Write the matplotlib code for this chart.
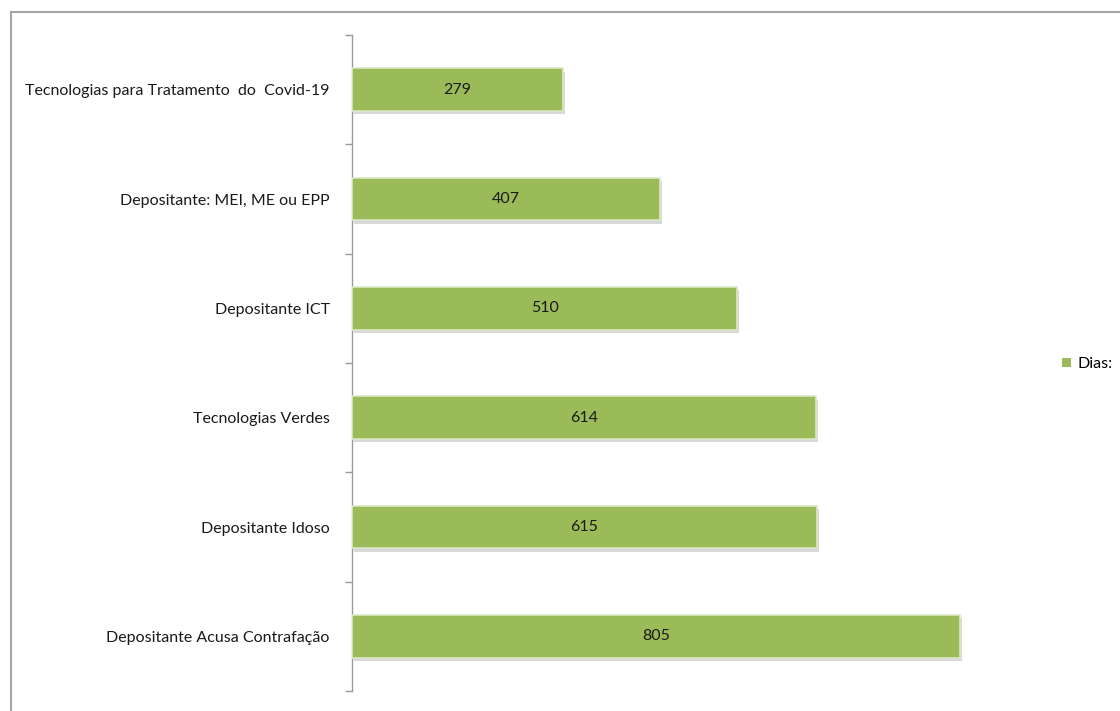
import matplotlib
matplotlib.use("Agg")
import matplotlib.pyplot as plt
import matplotlib.patheffects as pe
from matplotlib.lines import Line2D
from matplotlib.patches import Patch

categories = [
    "Tecnologias para Tratamento  do  Covid-19",
    "Depositante: MEI, ME ou EPP",
    "Depositante ICT",
    "Tecnologias Verdes",
    "Depositante Idoso",
    "Depositante Acusa Contrafação",
]
values = [279, 407, 510, 614, 615, 805]
series_name = "Dias:"

plt.rcParams['font.family'] = ['Lato', 'DejaVu Sans']

W, H = 1120, 711
fig = plt.figure(figsize=(W / 100, H / 100), dpi=100)
fig.patch.set_facecolor("white")

left, right, top, bottom = 352, 1032, 35, 691
ax = fig.add_axes([left / W, 1 - bottom / H, (right - left) / W, (bottom - top) / H])

ypos = list(range(len(categories)))
bars = ax.barh(ypos, values, height=0.39, color="#9BBB59", edgecolor="#dbe7c4",
               linewidth=1.2, label=series_name, zorder=3)
for b in bars:
    b.set_path_effects([pe.SimplePatchShadow(offset=(1.5, -2.5), shadow_rgbFace="#7f7f7f", alpha=0.3),
                        pe.Normal()])

for b, v in zip(bars, values):
    ax.text(b.get_width() / 2, b.get_y() + b.get_height() / 2, str(v),
            ha="center", va="center", fontsize=11.5, color="#1a1a1a", zorder=4)

ax.set_xlim(0, 900)
ax.set_ylim(len(categories) - 0.5, -0.5)
ax.set_yticks(ypos)
ax.set_yticklabels(categories, fontsize=11.5, color="#1a1a1a")
ax.set_yticks([i - 0.5 for i in range(len(categories) + 1)], minor=True)
ax.tick_params(axis="y", which="major", length=0, pad=16)
ax.tick_params(axis="y", which="minor", length=5, width=1, color="#999999", direction="out")
ax.set_xticks([])
for s in ["top", "right", "bottom"]:
    ax.spines[s].set_visible(False)
ax.spines["left"].set_color("#999999")
ax.spines["left"].set_linewidth(1)
ax.set_facecolor("none")

handles = [Patch(facecolor="#9BBB59", edgecolor="none", label=series_name)]
fig.legend(handles=handles, loc="center left", bbox_to_anchor=(1062 / W, 1 - 364 / H),
           frameon=False, fontsize=11.5, handlelength=0.55, handleheight=0.55,
           handletextpad=0.4, borderaxespad=0, borderpad=0)

# outer chart border
fig.add_artist(Line2D([11 / W, 11 / W], [0, 1 - 12 / H], transform=fig.transFigure,
                      color="#a6a6a6", linewidth=1.5))
fig.add_artist(Line2D([11 / W, 1], [1 - 12 / H, 1 - 12 / H], transform=fig.transFigure,
                      color="#a6a6a6", linewidth=1.5))

fig.savefig("out.png", dpi=100, facecolor="white")
